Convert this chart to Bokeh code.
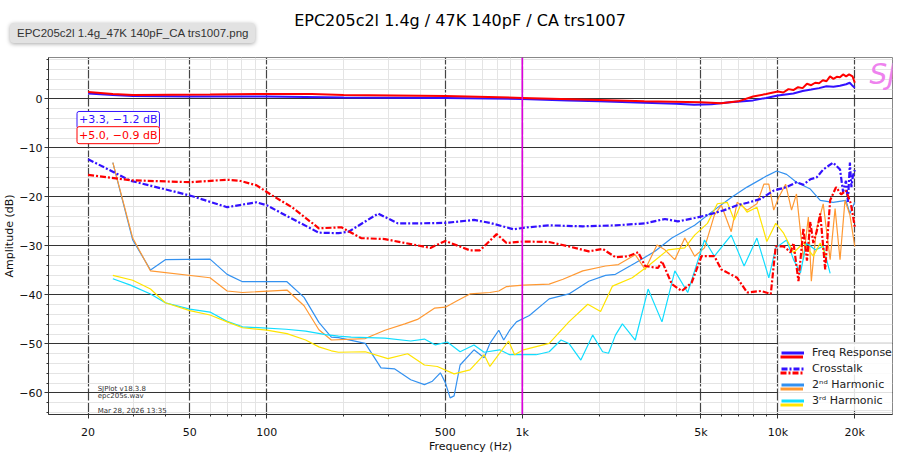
from bokeh.plotting import figure
from bokeh.layouts import column
from bokeh.models import (Range1d, FixedTicker, CustomJSTickFormatter, Span, Label,
                          Legend, LegendItem, Div)
from bokeh.embed import file_html
from bokeh.resources import INLINE

FONT = "DejaVu Sans"

title_text = "EPC205c2l 1.4g / 47K 140pF / CA trs1007"
file_name = "EPC205c2l 1.4g_47K 140pF_CA trs1007.png"
stamp_lines = ["SJPlot v18.3.8", "epc205s.wav", "Mar 28, 2026 13:35"]
legend_labels = ["Freq Response", "Crosstalk", "2\u207f\u1d48 Harmonic", "3\u02b3\u1d48 Harmonic"]

x_major = [20, 50, 100, 500, 1000, 5000, 10000, 20000]
x_minor = [30, 40, 60, 70, 80, 90, 200, 300, 400, 600, 700, 800, 900,
           2000, 3000, 4000, 6000, 7000, 8000, 9000]
y_major = [-60, -50, -40, -30, -20, -10, 0]

# frequency response (left = blue, right = red)
fr_l_hz = [20, 25, 30, 50, 100, 200, 500, 1000, 1500, 2000, 3000, 4000, 4700, 5500,
           6500, 8000, 9000, 10000, 11500, 12500, 13500, 14500, 15500, 16500, 17500,
           18500, 19100, 19500, 20000]
fr_l_db = [1.1, 0.8, 0.6, 0.5, 0.5, 0.3, 0.2, 0.0, -0.3, -0.5, -0.8, -1.0, -1.2, -1.1,
           -0.7, -0.3, 0.2, 0.7, 1.1, 1.6, 1.9, 2.2, 2.6, 2.5, 2.7, 3.0, 3.3, 2.8, 2.3]
fr_r_hz = [20, 25, 30, 60, 100, 150, 200, 500, 1000, 2000, 3000, 5000, 6000, 7000,
           8000, 9000, 10000, 10500, 11000, 11500, 12000, 12500, 13000, 13500, 14000,
           14500, 15000, 15500, 16000, 16500, 17000, 17500, 18000, 18500, 19000, 19600,
           20000]
fr_r_db = [1.4, 1.0, 0.8, 0.9, 1.0, 1.0, 0.8, 0.6, 0.2, -0.2, -0.5, -0.7, -0.9, -0.5,
           0.5, 1.0, 1.5, 1.3, 2.0, 1.8, 2.4, 2.2, 3.1, 2.8, 3.3, 3.2, 3.8, 3.6, 4.6,
           4.1, 4.5, 4.4, 5.0, 4.6, 5.0, 4.6, 3.3]

# crosstalk
xt_l_hz = [20, 29.3, 50, 70, 91, 100, 122, 160, 191, 209, 273, 326, 389, 500, 647, 747,
           924, 1010, 1274, 1725, 2315, 3024, 3615, 4060, 4725, 5303, 6172, 6931, 7600,
           8584, 9636, 10821, 11828, 12600, 13400, 14200, 15049, 16451, 17511, 18000,
           18473, 18800, 19143, 19400, 19665, 20000]
xt_l_db = [-12.3, -16.7, -19.7, -22.1, -21.1, -21.7, -24.1, -27.3, -27.4, -27.1, -23.4,
           -25.4, -25.4, -25.3, -24.7, -25.3, -26.6, -26.3, -25.8, -26.0, -25.8, -25.4,
           -24.5, -25.0, -24.3, -23.7, -22.7, -21.7, -21.2, -20.4, -18.7, -18.0, -17.0,
           -17.5, -16.4, -16.0, -14.4, -13.0, -14.4, -19.0, -16.7, -21.0, -13.0, -18.0,
           -15.7, -14.5]
xt_r_hz = [20, 29.3, 50, 70, 78.2, 91, 105, 125.5, 160, 196, 234, 290, 347, 437, 500,
           624, 683, 794, 868, 1010, 1274, 1522, 1820, 2062, 2315, 2599, 2842, 3024,
           3397, 3520, 3848, 4208, 4600, 5027, 5645, 6009, 6931, 7578, 8584, 9383, 9810,
           10535, 11214, 11516, 12041, 12590, 13000, 13400, 13764, 14200, 14652, 15319,
           16018, 16897, 17700, 18473, 19315, 20000]
xt_r_db = [-15.5, -16.6, -17.0, -16.5, -16.7, -17.6, -19.7, -22.1, -26.4, -26.2, -28.4,
           -28.6, -29.4, -30.4, -29.0, -30.9, -30.9, -27.6, -29.4, -29.1, -29.2, -30.1,
           -31.1, -30.6, -32.3, -32.1, -31.3, -34.1, -34.5, -33.1, -37.8, -39.2, -37.5,
           -32.1, -32.1, -34.8, -36.5, -39.5, -39.2, -39.8, -30.1, -30.1, -31.3, -29.4,
           -37.2, -26.4, -33.0, -25.1, -29.4, -27.0, -23.4, -34.8, -20.7, -18.0, -19.5,
           -18.7, -21.4, -26.1]

# 2nd harmonic
h2_l_hz = [25, 29.9, 35.1, 40.1, 60, 70, 80.4, 120, 140, 160, 179, 191, 243, 280, 317,
           366, 414, 445, 478, 500, 522, 541, 571, 647, 709, 747, 809, 846, 892, 949,
           1066, 1274, 1522, 1820, 2117, 2315, 2767, 3306, 3848, 4725, 5496, 6570, 7578,
           9055, 9897, 10821, 11828, 13400, 14652, 16451, 18473, 19143, 20000]
h2_l_db = [-13.0, -28.8, -34.9, -32.8, -32.7, -35.8, -37.3, -37.3, -40.5, -45.6, -48.6,
           -48.7, -49.9, -54.9, -55.1, -57.3, -58.3, -57.6, -55.9, -57.9, -61.0, -60.6,
           -54.3, -51.2, -52.8, -49.9, -47.2, -49.2, -47.2, -45.5, -44.2, -40.8, -39.8,
           -37.2, -36.0, -35.8, -33.5, -31.1, -28.4, -25.8, -23.1, -20.1, -18.0, -15.7,
           -14.7, -15.4, -17.0, -18.4, -20.7, -21.1, -20.7, -23.4, -21.1]
h2_r_hz = [25, 29.9, 35.1, 60, 70, 80.4, 120, 140, 160, 179, 243, 290, 347, 389, 453,
           500, 556, 624, 747, 809, 868, 1010, 1274, 1443, 1725, 2117, 2378, 2767, 3024,
           3366, 3615, 3953, 4322, 4725, 5163, 5645, 6009, 6570, 6931, 7578, 8282, 8816,
           9218, 9636, 10075, 10725, 11313, 11828, 12590, 13163, 13521, 14137, 15049,
           16018, 16748, 17511, 18310, 19143, 20000]
h2_r_db = [-13.0, -28.4, -35.1, -36.5, -39.2, -39.5, -39.0, -42.2, -47.1, -49.2, -48.9,
           -47.2, -45.9, -45.0, -42.7, -42.5, -41.2, -39.8, -39.5, -39.2, -38.3, -38.0,
           -37.8, -36.8, -35.1, -34.1, -33.8, -31.8, -34.8, -29.8, -30.8, -32.8, -28.4,
           -32.1, -30.4, -23.7, -21.7, -27.1, -21.1, -22.7, -21.4, -17.4, -17.4, -22.7,
           -20.1, -17.4, -22.7, -19.4, -32.8, -24.1, -37.2, -26.8, -21.4, -32.8, -22.4,
           -32.8, -20.7, -23.7, -30.1]

# 3rd harmonic
h3_l_hz = [25, 29.3, 35.1, 40.1, 50, 60, 70, 80.4, 119, 142, 170, 191, 214, 290, 366,
           414, 457, 509, 571, 647, 709, 816, 892, 1134, 1274, 1418, 1522, 1695, 1886,
           2062, 2175, 2315, 2464, 2767, 3107, 3520, 3953, 4439, 5163, 5645, 6570, 7378,
           8282, 9218, 9810, 10821, 11516, 12258, 12931, 14012, 15049, 16018]
h3_l_db = [-36.7, -38.0, -39.8, -41.6, -42.9, -43.5, -45.4, -46.5, -47.0, -47.4, -48.1,
           -48.4, -48.6, -48.8, -49.4, -49.0, -50.2, -49.6, -51.6, -50.2, -51.7, -51.2,
           -52.2, -52.2, -51.6, -49.2, -49.9, -53.3, -48.2, -51.6, -51.9, -48.2, -45.9,
           -49.2, -38.8, -45.5, -35.1, -39.5, -28.8, -32.1, -27.8, -34.1, -28.4, -36.5,
           -30.4, -28.8, -32.8, -35.5, -29.4, -30.8, -30.1, -35.6]
h3_r_hz = [25, 29.9, 35.1, 40.1, 50, 60, 70, 80.4, 100, 120, 142, 160, 179, 191, 243,
           298, 356, 414, 465, 541, 624, 709, 747, 884, 933, 1010, 1274, 1522, 1804, 2025,
           2254, 2694, 3107, 3713, 4322, 4725, 5303, 5798, 6339, 6749, 7184, 7578, 8282,
           9055, 9810, 10535, 11516, 12590, 13764, 14652, 15456]
h3_r_db = [-36.0, -37.0, -38.8, -41.6, -43.2, -44.1, -45.5, -46.7, -47.2, -47.9, -49.2,
           -50.6, -51.4, -51.7, -51.6, -53.0, -52.0, -54.3, -54.6, -56.1, -55.3, -52.2,
           -54.6, -49.4, -52.2, -51.2, -49.9, -45.5, -41.9, -43.4, -38.2, -36.5, -34.1,
           -30.8, -30.4, -27.8, -25.4, -21.4, -21.1, -24.7, -21.4, -23.1, -22.1, -29.1,
           -25.4, -27.4, -31.4, -29.4, -32.1, -29.4, -32.1]

BLUE = "#3311ff"
RED = "#ff0000"
H2_BLUE = "#3391f0"
H2_ORANGE = "#ff9933"
H3_CYAN = "#11ddff"
H3_YELLOW = "#ffe400"
XT_DASH = "6 2 2 2"

p = figure(x_axis_type="log", x_range=Range1d(14.0, 28094), y_range=Range1d(-64.4, 8.45),
           width=904, height=405, output_backend="svg", toolbar_location=None,
           min_border_left=39, min_border_right=12, min_border_top=7, min_border_bottom=36)
p.background_fill_color = "white"
p.border_fill_color = "white"
p.outline_line_color = "#888888"

p.xaxis.ticker = FixedTicker(ticks=x_major, minor_ticks=x_minor)
p.yaxis.ticker = FixedTicker(ticks=y_major,
                             minor_ticks=[v for v in range(-64, 9, 2) if v % 10])
p.xaxis.formatter = CustomJSTickFormatter(
    code="return tick >= 1000 ? (tick / 1000) + 'k' : String(tick);")
p.yaxis.formatter = CustomJSTickFormatter(
    code="return tick < 0 ? '\\u2212' + Math.abs(tick) : String(tick);")
p.xaxis.axis_label = "Frequency (Hz)"
p.yaxis.axis_label = "Amplitude (dB)"
for ax in (p.xaxis, p.yaxis):
    ax.axis_label_text_font = FONT
    ax.axis_label_text_font_size = "11px"
    ax.axis_label_text_font_style = "normal"
    ax.axis_label_text_color = "#111111"
    ax.major_label_text_font = FONT
    ax.major_label_text_font_size = "11px"
    ax.major_label_text_color = "#111111"
    ax.major_tick_out = 4
    ax.major_tick_in = 0
    ax.minor_tick_out = 2
    ax.minor_tick_in = 0
    ax.axis_line_color = "#333333"
    ax.major_tick_line_color = "#333333"
    ax.minor_tick_line_color = "#333333"
    ax.major_label_standoff = 2
p.xaxis.major_label_standoff = 7
p.xaxis.axis_label_standoff = -2
p.yaxis.axis_label_standoff = 0

p.xgrid.grid_line_color = "#444444"
p.xgrid.grid_line_width = 1.2
p.xgrid.grid_line_dash = "12 2"
p.ygrid.grid_line_color = "#333333"
p.ygrid.grid_line_width = 1.2
for g in (p.xgrid, p.ygrid):
    g.minor_grid_line_color = "#e4e4e4"
    g.minor_grid_line_width = 1

p.line(h2_l_hz, h2_l_db, line_color=H2_BLUE, line_width=1.2)
p.line(h2_r_hz, h2_r_db, line_color=H2_ORANGE, line_width=1.2)
p.line(h3_l_hz, h3_l_db, line_color=H3_CYAN, line_width=1.2)
p.line(h3_r_hz, h3_r_db, line_color=H3_YELLOW, line_width=1.2)
p.line(xt_l_hz, xt_l_db, line_color=BLUE, line_width=2.2, line_dash=XT_DASH)
p.line(xt_r_hz, xt_r_db, line_color=RED, line_width=2.2, line_dash=XT_DASH)
p.line(fr_l_hz, fr_l_db, line_color=BLUE, line_width=2)
p.line(fr_r_hz, fr_r_db, line_color=RED, line_width=2)

p.add_layout(Span(location=1000, dimension="height", line_color="#dd00dd", line_width=1.6))

# max / min boxes of the frequency response
for db, color, yy in ((fr_l_db, BLUE, -4.3), (fr_r_db, RED, -7.4)):
    txt = "+%.1f, \u2212%.1f dB" % (max(db), abs(min(db)))
    p.add_layout(Label(x=18.1, y=yy, text=txt, text_color=color, text_font=FONT,
                       text_font_size="11px", text_baseline="middle",
                       border_line_color=color, border_line_width=1,
                       background_fill_color="white", padding=2, border_radius=2))

p.add_layout(Label(x=28900, y=8.4, text="SJ", text_align="right", text_baseline="top",
                   text_font=FONT, text_font_size="28px", text_font_style="italic",
                   text_color="#ee82ee"))

for txt, yy in zip(stamp_lines, (-59.15, -60.7, -63.6)):
    p.add_layout(Label(x=21.8, y=yy, text=txt, text_font=FONT, text_font_size="7px",
                       text_baseline="middle", text_color="#333333"))

# legend swatches: one-point lines (draw nothing in the plot), two stacked legends
# so that each entry shows both channel colours
def swatch(hz, db, color, dash="solid"):
    return p.line(hz[:1], db[:1], line_color=color, line_width=3, line_dash=dash)

top_swatches = [swatch(fr_l_hz, fr_l_db, BLUE), swatch(xt_l_hz, xt_l_db, BLUE, XT_DASH),
                swatch(h2_l_hz, h2_l_db, H2_BLUE), swatch(h3_l_hz, h3_l_db, H3_CYAN)]
low_swatches = [swatch(fr_r_hz, fr_r_db, RED), swatch(xt_r_hz, xt_r_db, RED, XT_DASH),
                swatch(h2_r_hz, h2_r_db, H2_ORANGE), swatch(h3_r_hz, h3_r_db, H3_YELLOW)]

legend_style = dict(glyph_height=15, glyph_width=23, label_height=15, label_standoff=8,
                    spacing=1, padding=2, margin=0, label_text_font=FONT,
                    label_text_font_size="11px", label_text_color="#222222")
leg_a = Legend(items=[LegendItem(label=t, renderers=[r])
                      for t, r in zip(legend_labels, top_swatches)],
               location=(730, 3), border_line_color="#cccccc",
               background_fill_alpha=0.85, **legend_style)
leg_b = Legend(items=[LegendItem(label=" ", renderers=[r]) for r in low_swatches],
               location=(730, 0), border_line_alpha=0, background_fill_alpha=0,
               **legend_style)
p.add_layout(leg_a, "center")
p.add_layout(leg_b, "center")

header = Div(width=904, height=40, text=f"""
<div style="position:relative;width:904px;height:40px;">
  <div style="position:absolute;left:5px;top:18px;height:20px;line-height:20px;padding:0 7px;
       font-family:'Liberation Sans';font-size:11.5px;color:#333;background:#e2e2e2;
       border-radius:4px;box-shadow:0 1px 4px rgba(0,0,0,0.35);white-space:nowrap;">{file_name}</div>
  <div style="position:absolute;left:3px;top:6px;width:904px;text-align:center;
       font-family:'DejaVu Sans';font-size:16px;line-height:19px;color:#000;white-space:nowrap;">{title_text}</div>
</div>""")

layout = column(header, p, spacing=0)
open("out.html", "w").write(file_html(layout, INLINE))
